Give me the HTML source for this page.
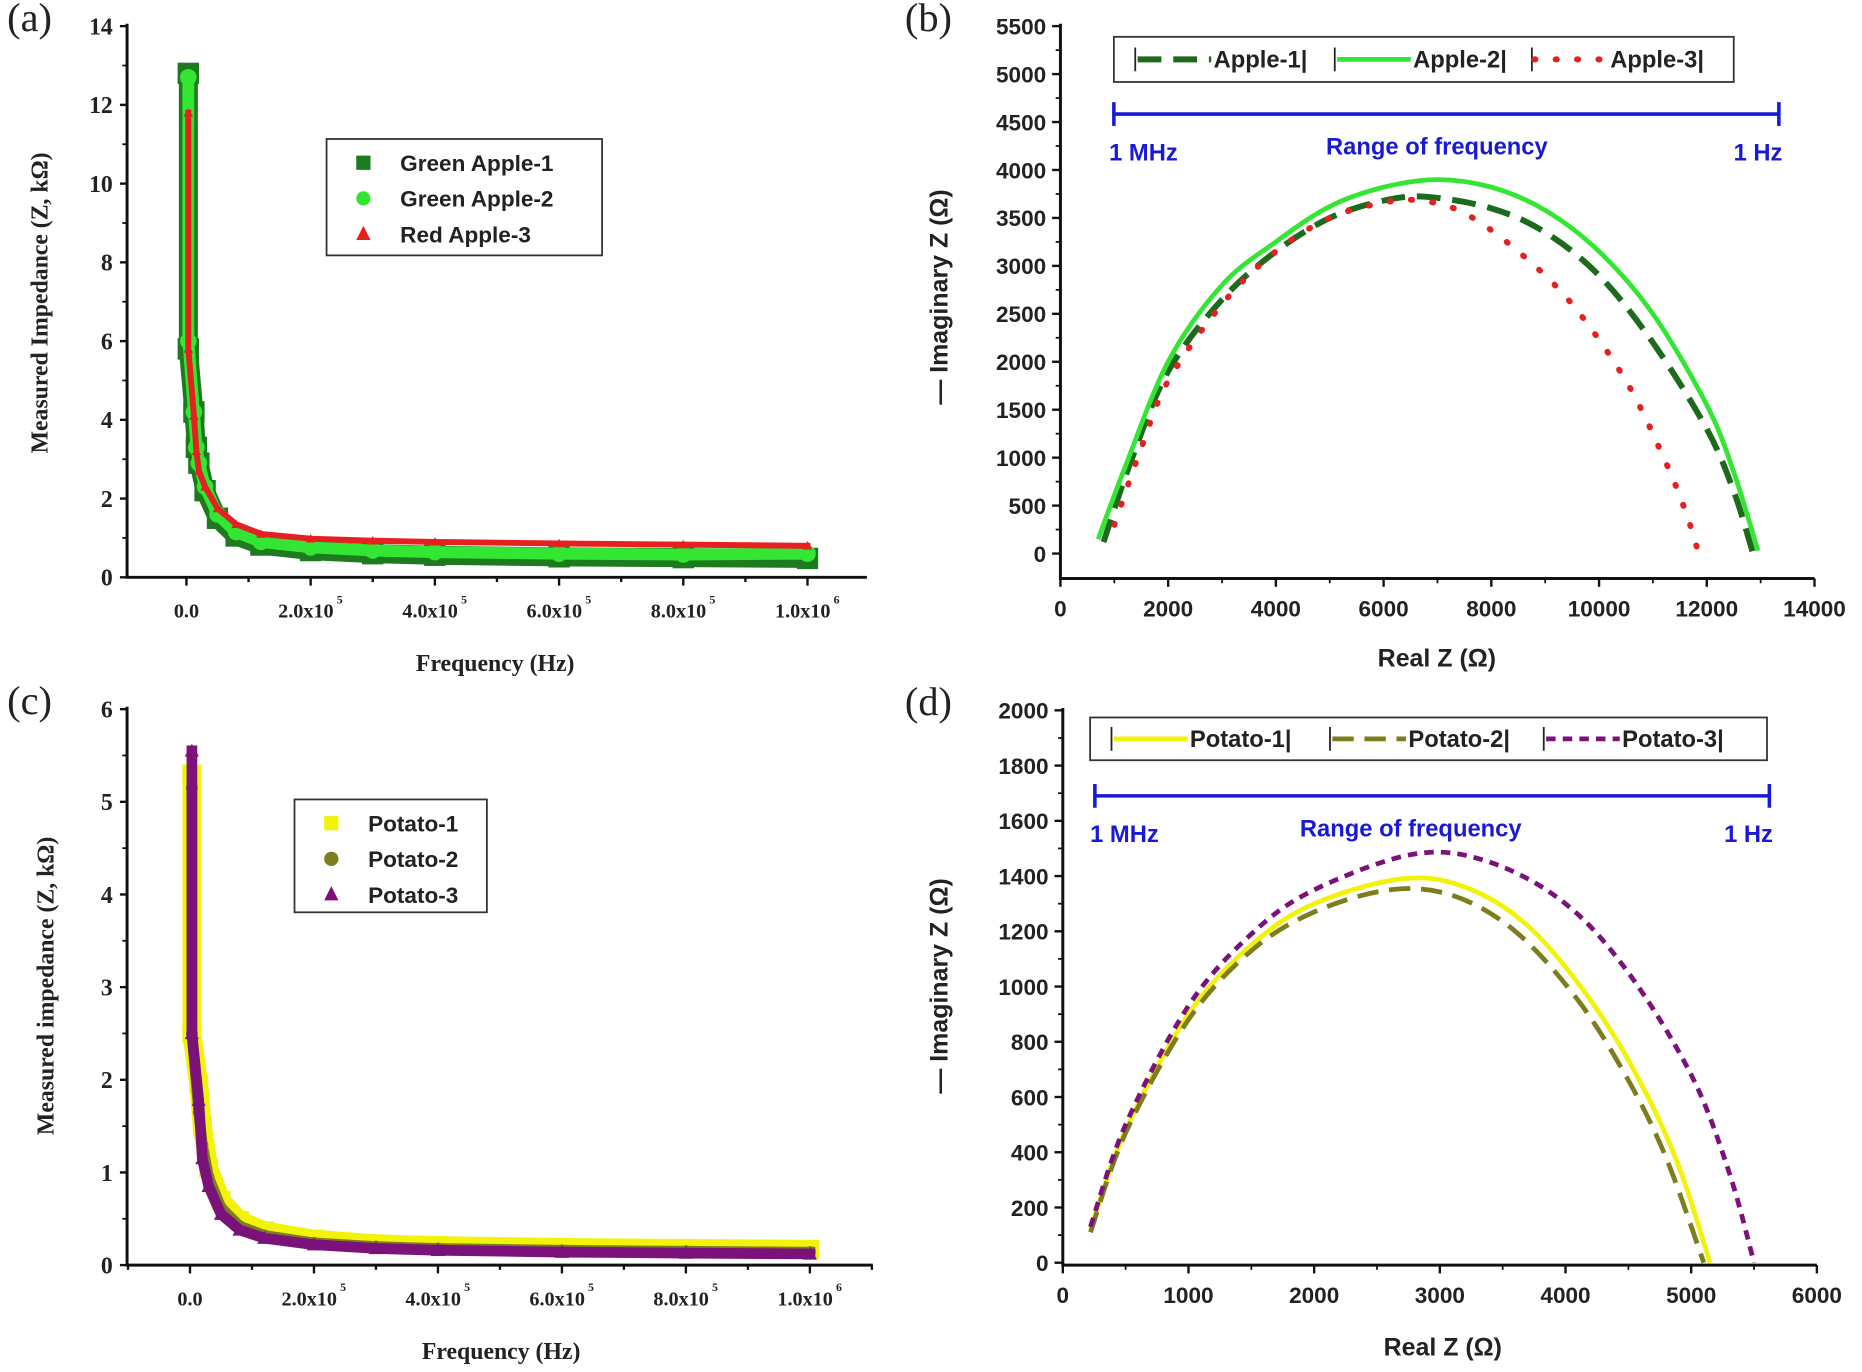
<!DOCTYPE html>
<html><head><meta charset="utf-8"><style>
html,body{margin:0;padding:0;background:#fff;}
svg{display:block;}
.serif{font-family:"Liberation Serif",serif;font-weight:bold;}
.sans{font-family:"Liberation Sans",sans-serif;font-weight:bold;}
</style></head><body>
<svg id="fig" width="1862" height="1372" viewBox="0 0 1568 1155" preserveAspectRatio="none" xmlns="http://www.w3.org/2000/svg"></svg>
<script>
// ---- Panel (a) data: frequency (Hz) vs impedance (kΩ)
const aFreq  = [3000,3000,12000,16000,20000,30000,50000,80000,120000,200000,300000,400000,600000,800000,1000000];
const aApple1 = [12.8,5.8,4.2,3.3,2.9,2.2,1.5,1.05,0.82,0.68,0.6,0.56,0.52,0.5,0.48];
const aApple2 = [12.7,6.0,4.2,3.3,2.9,2.3,1.6,1.15,0.9,0.76,0.68,0.64,0.6,0.58,0.6];
const aApple3 = [11.8,5.8,4.1,3.2,2.7,2.3,1.75,1.35,1.1,0.98,0.93,0.9,0.86,0.83,0.8];
const aYTicks = [0,2,4,6,8,10,12,14];
const aXTicks = [0,200000,400000,600000,800000,1000000];
const aXLabels = ["0.0","2.0x10","4.0x10","6.0x10","8.0x10","1.0x10"];
const aXExp = ["","5","5","5","5","6"];
// ---- Panel (c) data
const cFreq = [3000,3000,14000,20000,30000,50000,80000,120000,200000,300000,400000,600000,800000,1000000];
const cPotato1 = [5.3,2.5,1.95,1.5,1.05,0.7,0.48,0.37,0.28,0.23,0.21,0.19,0.18,0.17];
const cPotato2 = [5.15,2.5,1.65,1.3,0.95,0.62,0.42,0.32,0.24,0.2,0.18,0.16,0.15,0.14];
const cPotato3 = [5.55,2.5,1.78,1.15,0.85,0.55,0.38,0.29,0.22,0.18,0.16,0.14,0.13,0.12];
const cYTicks = [0,1,2,3,4,5,6];
// ---- Panel (b) data: Real Z vs -Imag Z (Ω)
const bApple1X = [800,1300,2000,3000,4000,5000,6000,6800,8000,9000,10000,11000,12000,12500,12850];
const bApple1Y = [120,950,1900,2650,3150,3500,3680,3720,3600,3350,2900,2200,1300,650,20];
const bApple2X = [700,1200,2000,3000,4000,5000,6000,7000,8000,9000,10000,11000,12000,12500,12950];
const bApple2Y = [150,900,2000,2800,3250,3620,3820,3900,3820,3580,3150,2500,1550,850,30];
const bApple3X = [1000,1500,2000,3000,4000,5000,6000,6700,7500,8500,9500,10500,11200,11600,11850];
const bApple3Y = [300,1100,1800,2600,3150,3500,3660,3680,3550,3150,2600,1800,1000,450,0];
const bYTicks = [0,500,1000,1500,2000,2500,3000,3500,4000,4500,5000,5500];
const bXTicks = [0,2000,4000,6000,8000,10000,12000,14000];
// ---- Panel (d) data
const dPotato1X = [220,500,1000,1500,2000,2700,3200,3700,4200,4600,4900,5150];
const dPotato1Y = [120,480,900,1150,1300,1390,1360,1220,950,650,350,0];
const dPotato2X = [220,500,1000,1500,2000,2600,3100,3600,4100,4500,4800,5100];
const dPotato2Y = [110,470,880,1130,1270,1350,1330,1200,950,660,380,0];
const dPotato3X = [220,500,1000,1500,2000,2800,3400,4000,4500,5000,5300,5500];
const dPotato3Y = [130,500,930,1190,1350,1480,1450,1300,1050,680,330,0];
const dYTicks = [0,200,400,600,800,1000,1200,1400,1600,1800,2000];
const dXTicks = [0,1000,2000,3000,4000,5000,6000];

(function(){
var NSURI="http://www.w3.org/2000/svg";
var root=document.getElementById('fig');
function mk(tag,attrs,parent){var e=document.createElementNS(NSURI,tag);for(var k in attrs)e.setAttribute(k,attrs[k]);(parent||root).appendChild(e);return e;}
function tx(s,x,y,cls,size,anchor,parent,fill){var t=mk('text',{x:x,y:y,'font-size':size,'text-anchor':anchor||'middle','class':cls,fill:fill||'#222'},parent);t.textContent=s;return t;}
function lin(d0,d1,r0,r1){return function(v){return r0+(v-d0)*(r1-r0)/(d1-d0);};}
function pathOf(xs,ys,sx,sy){return xs.map(function(v,i){return (i?'L':'M')+sx(v).toFixed(1)+','+sy(ys[i]).toFixed(1);}).join(' ');}
function smoothPath(xs,ys,sx,sy){
  var P=xs.map(function(v,i){return [sx(v),sy(ys[i])];});
  var d='M'+P[0][0].toFixed(1)+','+P[0][1].toFixed(1);
  for(var i=0;i<P.length-1;i++){
    var p0=P[i>0?i-1:i],p1=P[i],p2=P[i+1],p3=P[i+2<P.length?i+2:i+1];
    var c1x=p1[0]+(p2[0]-p0[0])/6,c1y=p1[1]+(p2[1]-p0[1])/6,c2x=p2[0]-(p3[0]-p1[0])/6,c2y=p2[1]-(p3[1]-p1[1])/6;
    d+='C'+c1x.toFixed(1)+','+c1y.toFixed(1)+' '+c2x.toFixed(1)+','+c2y.toFixed(1)+' '+p2[0].toFixed(1)+','+p2[1].toFixed(1);
  }
  return d;
}

function scatterPanel(o){
  var g=mk('g',{});
  
  
  var sx=lin(0,1000000,o.x0,o.x1), sy=lin(0,o.ymax,o.yb,o.yt);
  o.series.forEach(function(s){
    var p=mk('path',{d:pathOf(o.freq,s.vals,sx,sy),fill:'none',stroke:s.color,'stroke-width':s.w,'stroke-linejoin':'round','stroke-linecap':'square'},g);
    
    
    o.freq.forEach(function(f,i){
      var cx=sx(f),cy=sy(s.vals[i]),m;
      if(s.shape==='sq')m=mk('rect',{x:cx-s.ms,y:cy-s.ms,width:2*s.ms,height:2*s.ms,fill:s.color},g);
      else if(s.shape==='c')m=mk('circle',{cx:cx,cy:cy,r:s.ms,fill:s.color},g);
      else m=mk('path',{d:'M'+cx+','+(cy-s.ms)+'L'+(cx+s.ms)+','+(cy+s.ms*0.8)+'L'+(cx-s.ms)+','+(cy+s.ms*0.8)+'Z',fill:s.color},g);
      
      
    });
  });
  var ax=mk('path',{d:'M'+o.ax+','+(o.yt-2)+'L'+o.ax+','+o.yb+'L'+o.axr+','+o.yb,fill:'none',stroke:'#111','stroke-width':2.5},g);
  
  
  o.yticks.forEach(function(v,i){var y=sy(v);mk('line',{x1:o.ax-6,y1:y,x2:o.ax,y2:y,stroke:'#111','stroke-width':2},g);
    var t=tx(String(v),o.ax-12,y+7,'serif',20,'end',g);
    
    
    if(i<o.yticks.length-1){var ym=sy((v+o.yticks[i+1])/2);mk('line',{x1:o.ax-4,y1:ym,x2:o.ax,y2:ym,stroke:'#111','stroke-width':1.5},g);}});
  for(var f=-100000;f<=1100000;f+=100000){var x=sx(f);if(x<o.ax||x>o.axr)continue;var major=(f%200000===0);
    mk('line',{x1:x,y1:o.yb,x2:x,y2:o.yb+(major?7:4),stroke:'#111','stroke-width':2},g);}
  aXTicks.forEach(function(fv,i){var x=sx(fv);var t=tx(aXLabels[i],x-(aXExp[i]?4:0),o.yb+34,'serif',17,'middle',g);
    
    
    if(aXExp[i]){var e=tx(aXExp[i],x+22,o.yb+22,'serif',10,'start',g);
      
      }});
  var xl=tx('Frequency (Hz)',o.xlx,o.xly,'serif',20,'middle',g);
  
  
  var yl=tx(o.ylabel,0,0,'serif',20,'middle',g);
  yl.setAttribute('transform','translate('+o.ylx+','+o.yly+') rotate(-90)');
  
  
  var pl=mk('text',{x:6,y:o.yt+4,'font-size':34,fill:'#222','font-family':'Liberation Serif, serif'},g);pl.textContent=o.tag;
  
  
  var lg=mk('g',{},g);
  
  
  mk('rect',{x:o.lg[0],y:o.lg[1],width:o.lg[2],height:o.lg[3],fill:'#fff',stroke:'#333','stroke-width':1.5},lg);
  o.series.forEach(function(s,i){var cy=o.lg[1]+20+i*30,cx=o.lg[0]+31,m;
    if(s.shape==='sq')m=mk('rect',{x:cx-6,y:cy-6,width:12,height:12,fill:s.color},lg);
    else if(s.shape==='c')m=mk('circle',{cx:cx,cy:cy,r:6,fill:s.color},lg);
    else m=mk('path',{d:'M'+cx+','+(cy-7)+'L'+(cx+6)+','+(cy+5)+'L'+(cx-6)+','+(cy+5)+'Z',fill:s.color},lg);
    
    
    var t=tx(s.label,o.lg[0]+62,cy+7,'sans',19,'start',lg);
    
    });
}
scatterPanel({name:'panel-a',tag:'(a)',freq:aFreq,x0:157,x1:680,ax:107,axr:730,yb:486,yt:22,ymax:14,yticks:aYTicks,
  ylabel:'Measured Impedance (Z, kΩ)',ylx:40,yly:255,xlx:417,xly:565,lg:[275,117,232,98],
  series:[{id:'green-apple-1',label:'Green Apple-1',color:'#1e7a1e',shape:'sq',ms:9,w:16,vals:aApple1},
          {id:'green-apple-2',label:'Green Apple-2',color:'#33e633',shape:'c',ms:7,w:10,vals:aApple2},
          {id:'red-apple-3',label:'Red Apple-3',color:'#e62020',shape:'t',ms:4,w:5,vals:aApple3}]});
scatterPanel({name:'panel-c',tag:'(c)',freq:cFreq,x0:160,x1:682,ax:107,axr:735,yb:1065,yt:597,ymax:6,yticks:cYTicks,
  ylabel:'Measured impedance (Z, kΩ)',ylx:45,yly:830,xlx:422,xly:1144,lg:[248,673,162,95],
  series:[{id:'potato-1',label:'Potato-1',color:'#f2f20a',shape:'sq',ms:8,w:16,vals:cPotato1},
          {id:'potato-2',label:'Potato-2',color:'#7d7d1e',shape:'c',ms:5,w:9,vals:cPotato2},
          {id:'potato-3',label:'Potato-3',color:'#7a127a',shape:'t',ms:6,w:9,vals:cPotato3}]});

function nyquistPanel(o){
  var g=mk('g',{});
  
  
  var sx=lin(0,o.xmax,o.x0,o.x1), sy=lin(0,o.ymax,o.y0,o.ytop);
  var ax=mk('path',{d:'M'+o.x0+','+(o.ytop-2)+'L'+o.x0+','+o.yb+'L'+o.x1+','+o.yb,fill:'none',stroke:'#111','stroke-width':2.5},g);
  
  
  o.yticks.forEach(function(v,i){var y=sy(v);mk('line',{x1:o.x0-7,y1:y,x2:o.x0,y2:y,stroke:'#111','stroke-width':2},g);
    var t=tx(String(v),o.x0-12,y+7,'sans',19,'end',g);
    
    
    if(i<o.yticks.length-1){var ym=sy((v+o.yticks[i+1])/2);mk('line',{x1:o.x0-4,y1:ym,x2:o.x0,y2:ym,stroke:'#111','stroke-width':1.5},g);}});
  o.xticks.forEach(function(v,i){var x=sx(v);mk('line',{x1:x,y1:o.yb,x2:x,y2:o.yb+7,stroke:'#111','stroke-width':2},g);
    var t=tx(String(v),x,o.yb+32,'sans',19,'middle',g);
    
    
    if(i<o.xticks.length-1){var xm=sx((v+o.xticks[i+1])/2);mk('line',{x1:xm,y1:o.yb,x2:xm,y2:o.yb+4,stroke:'#111','stroke-width':1.5},g);}});
  var xl=tx('Real Z (Ω)',o.xlx,o.xly,'sans',21,'middle',g);
  
  
  var yl=tx('— Imaginary Z (Ω)',0,0,'sans',21,'middle',g);
  yl.setAttribute('transform','translate('+o.ylx+','+o.yly+') rotate(-90)');
  
  
  var pl=mk('text',{x:762,y:o.ytop+4,'font-size':34,fill:'#222','font-family':'Liberation Serif, serif'},g);pl.textContent=o.tag;
  
  
  o.series.forEach(function(s){var p=mk('path',{d:smoothPath(s.xs,s.ys,sx,sy),fill:'none',stroke:s.color,'stroke-width':s.w,'stroke-dasharray':s.dash,'stroke-linejoin':'round','stroke-linecap':s.cap||'butt'},g);
    
    });
  var rb=mk('g',{},g);
  
  
  mk('line',{x1:o.rb[0],y1:o.rb[2],x2:o.rb[1],y2:o.rb[2],stroke:'#1a1ad6','stroke-width':3},rb);
  mk('line',{x1:o.rb[0],y1:o.rb[2]-10,x2:o.rb[0],y2:o.rb[2]+10,stroke:'#1a1ad6','stroke-width':3},rb);
  mk('line',{x1:o.rb[1],y1:o.rb[2]-10,x2:o.rb[1],y2:o.rb[2]+10,stroke:'#1a1ad6','stroke-width':3},rb);
  tx('1 MHz',o.rb[0]-4,o.rb[2]+39,'sans',20,'start',rb,'#1a1ad6');
  tx('Range of frequency',o.rbc,o.rb[2]+34,'sans',20,'middle',rb,'#1a1ad6');
  tx('1 Hz',o.rb[1]+3,o.rb[2]+39,'sans',20,'end',rb,'#1a1ad6');
  var lg=mk('g',{},g);
  
  
  mk('rect',{x:o.lg[0],y:o.lg[1],width:o.lg[2],height:o.lg[3],fill:'#fff',stroke:'#333','stroke-width':1.5},lg);
  var cy=o.lg[1]+o.lg[3]/2;
  o.series.forEach(function(s,i){var x=o.legX[i];
    mk('line',{x1:x,y1:cy-10,x2:x,y2:cy+10,stroke:'#222','stroke-width':1.5},lg);
    var l=mk('line',{x1:x+2,y1:cy,x2:x+64,y2:cy,stroke:s.color,'stroke-width':s.w,'stroke-dasharray':s.dash,'stroke-linecap':s.cap||'butt'},lg);
    
    
    var t=tx(s.label,x+66,cy+7,'sans',20,'start',lg);
    
    });
}
nyquistPanel({name:'panel-b',tag:'(b)',x0:893,x1:1528,xmax:14000,y0:466,ytop:22,ymax:5500,yb:487,yticks:bYTicks,xticks:bXTicks,
  xlx:1210,xly:561,ylx:798,yly:250,rb:[938,1498,96],rbc:1210,lg:[938,31,522,38],legX:[956,1124,1290],
  series:[{id:'apple-1',label:'Apple-1|',xs:bApple1X,ys:bApple1Y,color:'#1c6b1c',w:5,dash:'20 10'},
          {id:'apple-2',label:'Apple-2|',xs:bApple2X,ys:bApple2Y,color:'#33e633',w:4,dash:'none'},
          {id:'apple-3',label:'Apple-3|',xs:bApple3X,ys:bApple3Y,color:'#e62020',w:5,dash:'1 17',cap:'round'}]});
nyquistPanel({name:'panel-d',tag:'(d)',x0:895,x1:1530,xmax:6000,y0:1063,ytop:598,ymax:2000,yb:1065,yticks:dYTicks,xticks:dXTicks,
  xlx:1215,xly:1141,ylx:798,yly:830,rb:[922,1490,670],rbc:1188,lg:[918,604,570,36],legX:[936,1120,1300],
  series:[{id:'potato-1',label:'Potato-1|',xs:dPotato1X,ys:dPotato1Y,color:'#f2f20a',w:4,dash:'none'},
          {id:'potato-2',label:'Potato-2|',xs:dPotato2X,ys:dPotato2Y,color:'#7d7d1e',w:4,dash:'18 9'},
          {id:'potato-3',label:'Potato-3|',xs:dPotato3X,ys:dPotato3Y,color:'#7a127a',w:4,dash:'8 6'}]});
})();
</script>
</body></html>
